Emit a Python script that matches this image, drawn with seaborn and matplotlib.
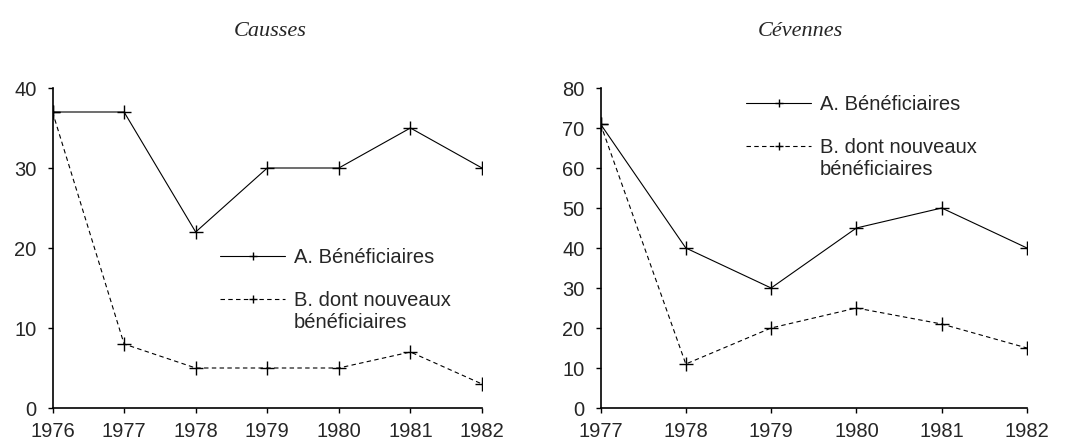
import pandas as pd
import matplotlib.pyplot as plt
import seaborn as sns

# Causses
years_causses = [1976, 1977, 1978, 1979, 1980, 1981, 1982]
benef_causses = [37, 37, 22, 30, 30, 35, 30]
nouveaux_causses = [37, 8, 5, 5, 5, 7, 3]

# Cévennes
years_cevennes = [1977, 1978, 1979, 1980, 1981, 1982]
benef_cevennes = [71, 40, 30, 45, 50, 40]
nouveaux_cevennes = [71, 11, 20, 25, 21, 15]

label_a = "A. Bénéficiaires"
label_b = "B. dont nouveaux"
label_b2 = "bénéficiaires"

sns.set_theme(style="ticks")
plt.rcParams["font.family"] = ["Liberation Sans", "DejaVu Sans"]

FS = 14.5

fig = plt.figure(figsize=(10.73, 4.41), dpi=100)
ax1 = fig.add_axes([52.5 / 1073, 1 - 408 / 441, 429.5 / 1073, 320 / 441])
ax2 = fig.add_axes([600.5 / 1073, 1 - 408 / 441, 426.5 / 1073, 320 / 441])


def draw_panel(ax, years, a, b, ymax, title, title_x, legend_anchor):
    df = pd.DataFrame({"year": years, "A": a, "B": b})
    style = dict(color="black", lw=0.8, marker="+", markersize=10,
                 markeredgewidth=1, markeredgecolor="black")
    sns.lineplot(data=df, x="year", y="A", ax=ax, label=label_a, **style)
    sns.lineplot(data=df, x="year", y="B", ax=ax, label=label_b,
                 linestyle=(0, (4, 3)), **style)
    ax.set_xlim(years[0], years[-1])
    ax.set_ylim(0, ymax)
    ax.set_xticks(years)
    ax.set_yticks(range(0, ymax + 1, 10))
    ax.set_xlabel("")
    ax.set_ylabel("")
    ax.tick_params(labelsize=FS, length=3.5, width=1, color="black")
    ax.tick_params(axis="y", pad=8)
    ax.tick_params(axis="x", pad=6.5)
    for s in ["left", "bottom"]:
        ax.spines[s].set_color("black")
        ax.spines[s].set_linewidth(1.2)
    sns.despine(ax=ax)
    leg = ax.legend(loc="upper left", bbox_to_anchor=legend_anchor,
                    bbox_transform=fig.transFigure, frameon=False, fontsize=FS,
                    handlelength=3.25, handletextpad=0.4, labelspacing=1.2,
                    markerscale=0.6, borderpad=0, borderaxespad=0)
    # second line of the B label, drawn after the legend
    ax.annotate(label_b2, xy=(0, 0.5), xycoords=leg.get_texts()[1],
                xytext=(0, -16), textcoords="offset points",
                ha="left", va="center", fontsize=FS, zorder=10)
    fig.text(title_x, 1 - 31 / 441, title, ha="center", va="center",
             family="Liberation Serif", style="italic", fontsize=16)


draw_panel(ax1, years_causses, benef_causses, nouveaux_causses, 40,
           "Causses", 270 / 1073, (220 / 1073, 1 - 248 / 441))
draw_panel(ax2, years_cevennes, benef_cevennes, nouveaux_cevennes, 80,
           "Cévennes", 800 / 1073, (746 / 1073, 1 - 95 / 441))

fig.savefig("out.png", dpi=100)
